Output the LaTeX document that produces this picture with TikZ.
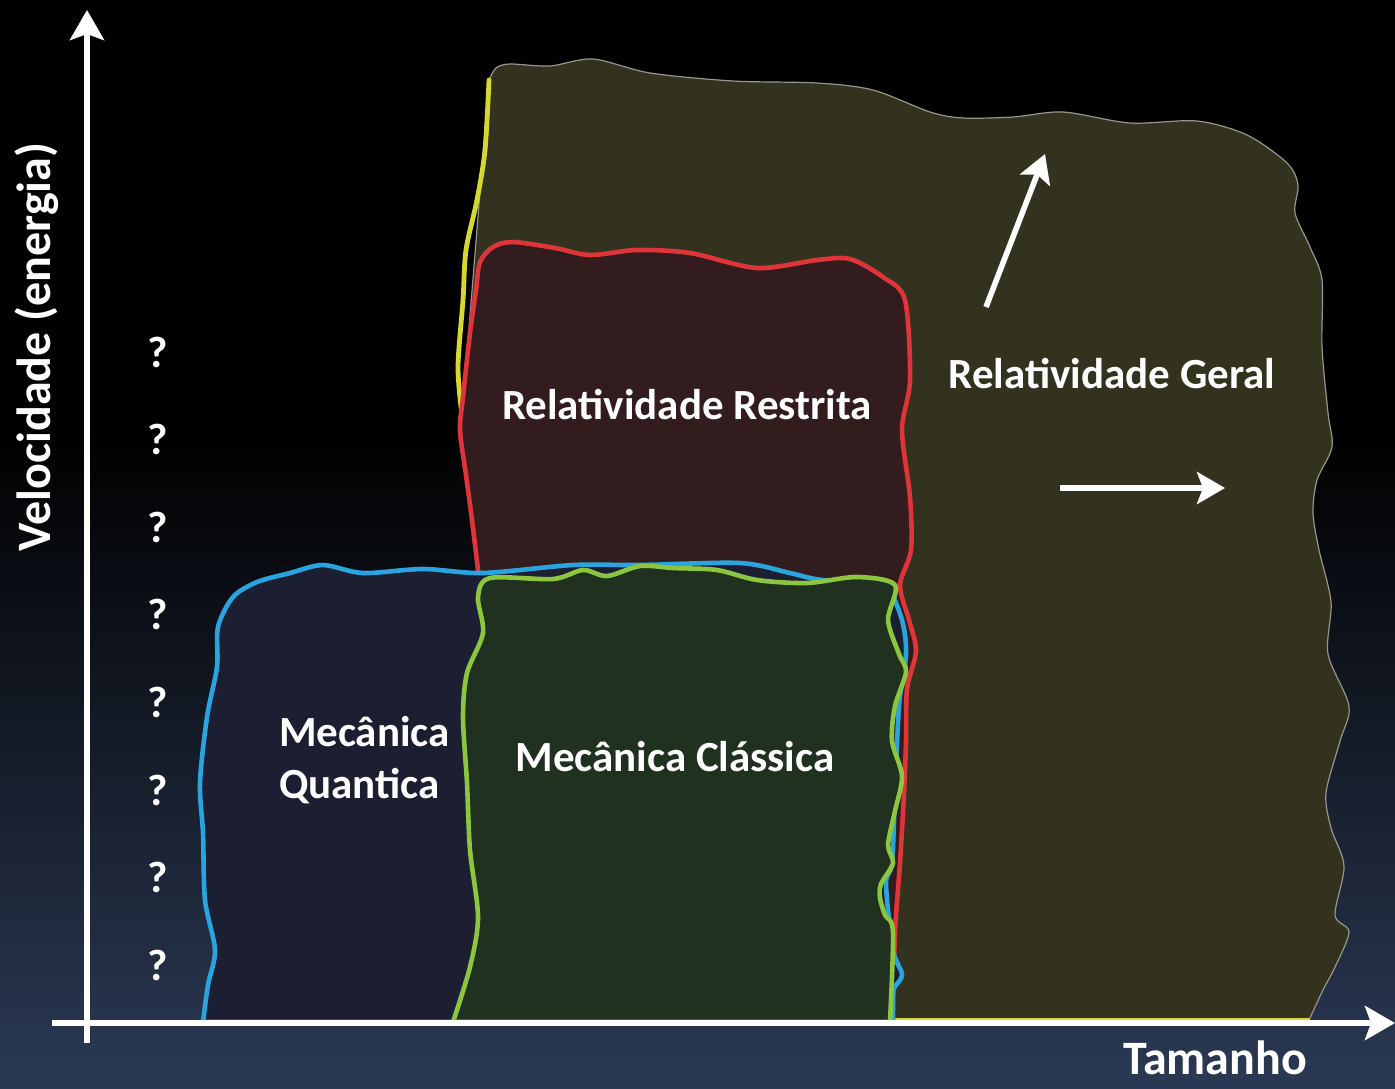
\documentclass[tikz,border=0pt]{standalone}
\usepackage{fontspec}
\setmainfont{Carlito}
\usetikzlibrary{arrows.meta}

\definecolor{bgblue}{RGB}{43,57,84}
\definecolor{geralfill}{RGB}{51,50,31}
\definecolor{geralrim}{RGB}{150,150,140}
\definecolor{geralline}{RGB}{214,216,48}
\definecolor{restfill}{RGB}{50,28,30}
\definecolor{restline}{RGB}{222,52,58}
\definecolor{quantfill}{RGB}{28,31,50}
\definecolor{quantline}{RGB}{42,164,222}
\definecolor{classfill}{RGB}{33,49,31}
\definecolor{classline}{RGB}{140,198,63}

\begin{document}
\begin{tikzpicture}[x=0.5pt, y=-0.5pt, line width=2pt,
	region/.style={line width=2.3pt},
	axis/.style={white, line width=3.3pt, -{Stealth[length=15pt, width=17pt, inset=3pt]}},
	hint/.style={white, line width=2.8pt, -{Stealth[length=14pt, width=16pt, inset=3pt]}},
	label/.style={text=white, inner sep=0pt, anchor=base, font=\bfseries\fontsize{21.5}{26}\selectfont},
	bigtext/.style={label, font=\bfseries\fontsize{24}{28}\selectfont}]

		\useasboundingbox (0,0) rectangle (1395,1088);
		\fill[black] (0,0) rectangle (1395,1088);
		\shade[top color=black, bottom color=bgblue] (0,430) rectangle (1395,1088);

		\filldraw[fill=geralfill, draw=geralrim, line width=0.6pt] plot[smooth] coordinates {(489,80) (496,68) (510,64) (550,66) (593,59) (650,73) (733,81) (817,83) (873,90) (930,112) (963,118) (1013,117) (1063,112) (1130,123) (1197,121) (1247,135) (1287,163) (1298,185) (1295,213) (1310,247) (1322,280) (1322,347) (1328,413) (1332,447) (1317,480) (1313,513) (1319,550) (1331,602) (1328,654) (1349,706) (1340,741) (1326,793) (1331,828) (1344,866) (1335,915) (1349,932) (1335,967) (1323,990) (1309,1020)} -- (880,1020) -- (880,560) -- (480,560) -- (480,450) -- (462,415) -- cycle;
		\draw[geralline, line width=2.4pt, line cap=round] plot[smooth] coordinates {(462,415) (458,367) (463,300) (466,250) (477,200) (485,150) (489,80)};
		\draw[geralline, line width=1.2pt] (893,1019) -- (1310,1019);

		\filldraw[region, fill=restfill, draw=restline] plot[smooth] coordinates {(478,570) (472,520) (466,475) (460,430) (463,397) (470,333) (476,290) (480,262) (493,247) (513,242) (555,248) (590,255) (637,250) (690,253) (757,268) (817,260) (850,259) (883,277) (905,300) (910,380) (902,430) (910,497) (911,550) (900,585) (909,620) (916,651) (907,689) (906,741) (904,793) (900,863) (895,932) (893,1022)} -- (478,1022) -- cycle;

		\filldraw[region, fill=quantfill, draw=quantline] plot[smooth] coordinates {(203,1022) (208,985) (215,950) (205,900) (203,833) (200,783) (207,717) (217,667) (218,627) (233,597) (257,582) (290,573) (323,565) (363,573) (423,569) (483,573) (573,565) (640,565) (740,563) (790,573) (823,580) (880,580) (888,585) (902,620) (906,654) (899,706) (895,793) (892,863) (886,884) (893,950) (902,975) (893,991) (893,1022)} -- cycle;

		\filldraw[region, fill=classfill, draw=classline] plot[smooth] coordinates {(453,1022) (470,967) (478,917) (470,850) (467,783) (463,717) (467,673) (483,633) (478,597) (490,578) (553,579) (583,570) (607,576) (640,566) (673,568) (717,570) (757,580) (807,583) (857,577) (895,585) (888,620) (899,654) (906,672) (895,706) (892,741) (902,776) (895,811) (888,845) (893,863) (881,884) (880,898) (885,915) (893,932) (890,1022)} -- cycle;

		\coordinate (xstart) at (52,1023);
		\coordinate (xend) at (1395,1023);
		\coordinate (ystart) at (87,1043);
		\coordinate (yend) at (87,10);
		\draw[axis] (xstart) -- (xend);
		\draw[axis] (ystart) -- (yend);

		\coordinate (upfrom) at (986,307);
		\coordinate (upto) at (1045,154);
		\coordinate (rightfrom) at (1060,488);
		\coordinate (rightto) at (1225,488);
		\draw[hint] (upfrom) -- (upto);
		\draw[hint] (rightfrom) -- (rightto);

		\node[label] (restrita) at (687,419) {Relatividade Restrita};
		\node[label] (geral) at (1112,388) {Relatividade Geral};
		\node[label] (classica) at (675,771) {Mecânica Clássica};
		\node[label, anchor=base west, align=left] (quantica) at (277,798) {Mecânica\\Quantica};

		\node[bigtext] (tamanho) at (1215,1074) {Tamanho};
		\node[bigtext, rotate=90] (velocidade) at (50,347) {Velocidade (energia)};

		\foreach \i in {0,...,7}
			\node[label, font=\bfseries\fontsize{22}{26}\selectfont] (q\i) at (158,367+87.6*\i) {?};

\end{tikzpicture}
\end{document}
